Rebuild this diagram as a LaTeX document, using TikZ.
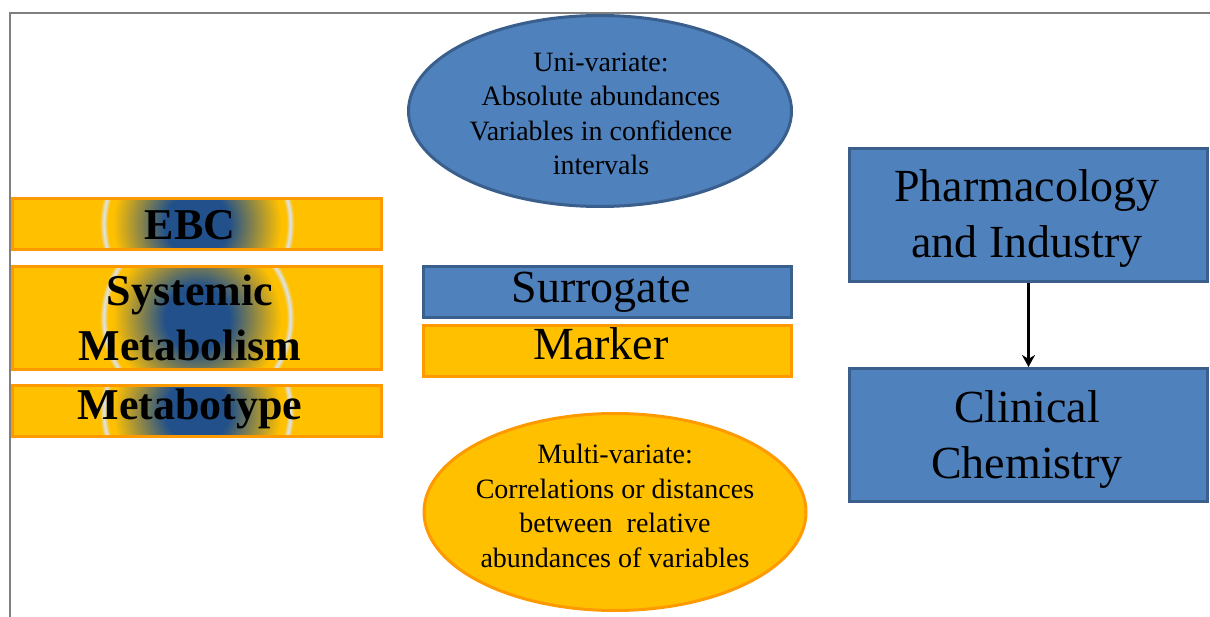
\documentclass[tikz,border=0pt]{standalone}
\usepackage{fontspec}
\setmainfont{Liberation Serif}
\usetikzlibrary{shapes.geometric,arrows.meta}
\definecolor{bfill}{HTML}{4F81BD}
\definecolor{bline}{HTML}{3A5F8C}
\definecolor{gold}{HTML}{FFC000}
\definecolor{oline}{HTML}{FF9900}
\definecolor{gblue}{HTML}{21508A}
\definecolor{gring}{HTML}{DCE4EC}
\definecolor{frame}{HTML}{7F7F7F}
\pgfdeclareradialshading{glow}{\pgfpoint{0bp}{0bp}}{color(0bp)=(gblue); color(32bp)=(gblue); color(84bp)=(gold); color(89bp)=(gold); color(93bp)=(gring); color(97bp)=(gold); color(110bp)=(gold)}
\tikzset{
  bluebox/.style={draw=bline, fill=bfill, line width=3pt, rectangle, inner sep=0pt},
  goldbox/.style={draw=oline, fill=gold, line width=3pt, rectangle, inner sep=0pt},
  glowbox/.style={goldbox, path picture={\node[inner sep=0pt, outer sep=0pt] at (path picture bounding box.center) {\pgfuseshading{glow}};}},
  bigtxt/.style={font=\fontsize{46}{56}\selectfont, align=center, inner sep=0pt, anchor=base},
  boldtxt/.style={font=\fontsize{44}{55}\selectfont\bfseries, align=center, inner sep=0pt, anchor=base},
  smalltxt/.style={font=\fontsize{28}{34.5}\selectfont, align=center, inner sep=0pt, anchor=base},
}
\begin{document}
\begin{tikzpicture}[x=1pt,y=-1pt]
\useasboundingbox (0,0) rectangle (1210,617);
% frame
\coordinate (fr1) at (10,13);
\coordinate (fr2) at (1210,13);
\coordinate (fr3) at (10,617);
\draw[frame, line width=2pt] (fr2) -- (fr1) -- (fr3);
% left boxes
\node[glowbox, minimum width=369pt, minimum height=51pt] (ebc) at (197,224) {};
\node[glowbox, minimum width=369pt, minimum height=103pt] (sys) at (197,318) {};
\node[glowbox, minimum width=369pt, minimum height=51pt] (mty) at (197,411) {};
\node[boldtxt] (ebct) at (190,240) {EBC};
\node[boldtxt] (syst) at (190,361) {Systemic\\Metabolism};
\node[boldtxt] (mtyt) at (190,420) {Metabotype};
% ellipses
\node[ellipse, draw=bline, fill=bfill, line width=3pt, minimum width=383pt, minimum height=191pt, inner sep=0pt] (uni) at (600,111) {};
\node[smalltxt] (unit) at (601,175) {Uni-variate:\\Absolute abundances\\Variables in confidence\\intervals};
\node[ellipse, draw=oline, fill=gold, line width=3pt, minimum width=382pt, minimum height=197pt, inner sep=0pt] (mul) at (615,512) {};
\node[smalltxt] (mult) at (615,567) {Multi-variate:\\Correlations or distances\\between\ \ relative\\abundances of variables};
% surrogate / marker
\node[bluebox, minimum width=368pt, minimum height=51pt] (sur) at (607.5,292) {};
\node[goldbox, minimum width=368pt, minimum height=51pt] (mkr) at (607.5,351) {};
\node[bigtxt] (surt) at (601,303) {Surrogate};
\node[bigtxt] (mkrt) at (601,360) {Marker};
% right boxes
\node[bluebox, minimum width=358pt, minimum height=133pt] (pha) at (1028.5,215) {};
\node[bluebox, minimum width=358pt, minimum height=133pt] (cli) at (1028.5,435) {};
\node[bigtxt] (phat) at (1027,258) {Pharmacology\\and Industry};
\node[bigtxt] (clit) at (1027,478) {Clinical\\Chemistry};
\draw[line width=2.5pt, -{Stealth[length=12pt,width=13pt]}] (pha.south) -- (cli.north);
\end{tikzpicture}
\end{document}
